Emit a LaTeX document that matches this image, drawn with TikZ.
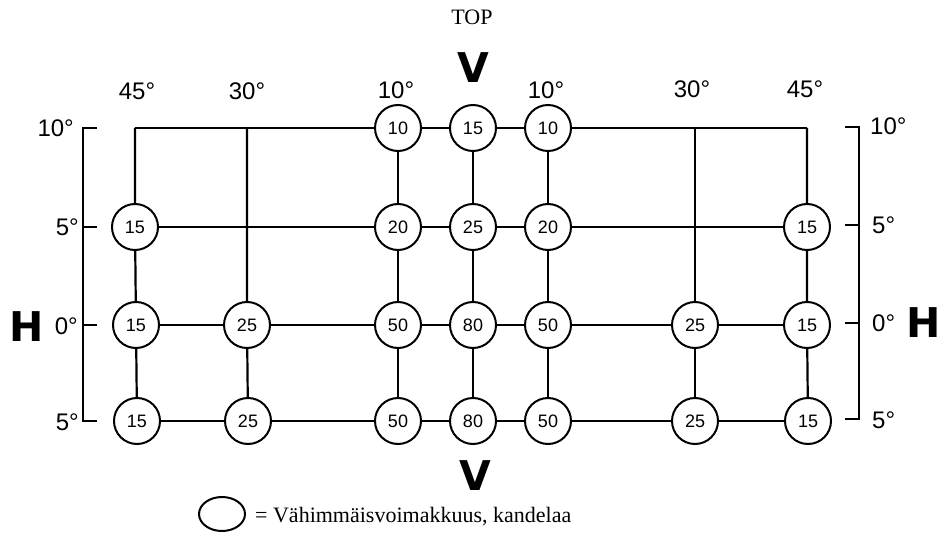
\documentclass[tikz,border=0pt]{standalone}
\usepackage{fontspec}
\setmainfont{Liberation Serif}
\newfontfamily\diagfont{Liberation Sans}
\newfontfamily\bigfont{DejaVu Sans}
\usetikzlibrary{shapes.geometric}
\begin{document}
\begin{tikzpicture}[x=1pt,y=-1pt,
  lamp/.style={circle, draw, line width=2pt, minimum size=46pt, inner sep=0pt, fill=white,
    font=\diagfont\fontsize{18}{18}\selectfont},
  gridline/.style={line width=2.2pt},
  deg/.style={font=\diagfont\fontsize{24}{24}\selectfont, inner sep=0pt},
  bigletter/.style={font=\bigfont\bfseries\fontsize{41}{41}\selectfont, inner sep=0pt},
  seriftext/.style={font=\fontsize{22}{26}\selectfont, inner sep=0pt}]
\useasboundingbox (0,0) rectangle (941,537);
% row 1
\coordinate (A1) at (135,128);
\coordinate (B1) at (247,128);
\node[lamp] (C1) at (398,128) {10};
\node[lamp] (D1) at (473,128) {15};
\node[lamp] (E1) at (548,128) {10};
\coordinate (F1) at (695,128);
\coordinate (G1) at (807,128);
% row 2
\node[lamp] (A2) at (135,227) {15};
\coordinate (B2) at (247,227);
\node[lamp] (C2) at (398,227) {20};
\node[lamp] (D2) at (473,227) {25};
\node[lamp] (E2) at (548,227) {20};
\coordinate (F2) at (695,227);
\node[lamp] (G2) at (807,227) {15};
% row 3
\node[lamp] (A3) at (136,325) {15};
\node[lamp] (B3) at (247,325) {25};
\node[lamp] (C3) at (398,325) {50};
\node[lamp] (D3) at (473,325) {80};
\node[lamp] (E3) at (548,325) {50};
\node[lamp] (F3) at (695,325) {25};
\node[lamp] (G3) at (807,325) {15};
% row 4
\node[lamp] (A4) at (137,421) {15};
\node[lamp] (B4) at (248,421) {25};
\node[lamp] (C4) at (398,421) {50};
\node[lamp] (D4) at (473,421) {80};
\node[lamp] (E4) at (548,421) {50};
\node[lamp] (F4) at (695,421) {25};
\node[lamp] (G4) at (808,421) {15};
% horizontal lines
\draw[gridline] (A1) -- (B1) -- (C1) -- (D1) -- (E1) -- (F1) -- (G1);
\draw[gridline] (A2) -- (B2) -- (C2) -- (D2) -- (E2) -- (F2) -- (G2);
\draw[gridline] (A3) -- (B3) -- (C3) -- (D3) -- (E3) -- (F3) -- (G3);
\draw[gridline] (A4) -- (B4) -- (C4) -- (D4) -- (E4) -- (F4) -- (G4);
% vertical lines
\draw[gridline] (A1) -- (A2) -- (A3) -- (A4);
\draw[gridline] (B1) -- (B2) -- (B3) -- (B4);
\draw[gridline] (C1) -- (C2) -- (C3) -- (C4);
\draw[gridline] (D1) -- (D2) -- (D3) -- (D4);
\draw[gridline] (E1) -- (E2) -- (E3) -- (E4);
\draw[gridline] (F1) -- (F2) -- (F3) -- (F4);
\draw[gridline] (G1) -- (G2) -- (G3) -- (G4);
% left bracket
\coordinate (LT) at (83,128); \coordinate (LB) at (83,421);
\coordinate (LT1) at (97,128); \coordinate (LB1) at (97,421);
\coordinate (L2) at (83,227); \coordinate (L2e) at (97,227);
\coordinate (L3) at (83,325); \coordinate (L3e) at (97,325);
\draw[gridline] (LT1) -- (LT) -- (LB) -- (LB1);
\draw[gridline] (L2) -- (L2e);
\draw[gridline] (L3) -- (L3e);
% right bracket
\coordinate (RT) at (859,127); \coordinate (RB) at (859,419);
\coordinate (RT1) at (845,127); \coordinate (RB1) at (845,419);
\coordinate (R2) at (859,225); \coordinate (R2e) at (845,225);
\coordinate (R3) at (859,323); \coordinate (R3e) at (845,323);
\draw[gridline] (RT1) -- (RT) -- (RB) -- (RB1);
\draw[gridline] (R2) -- (R2e);
\draw[gridline] (R3) -- (R3e);
% left labels
\node[deg, anchor=east] (lh1) at (74,128) {10°};
\node[deg, anchor=east] (lh2) at (79,227) {5°};
\node[deg, anchor=east] (lh3) at (78,326) {0°};
\node[deg, anchor=east] (lh4) at (79,422) {5°};
% right labels
\node[deg, anchor=west] (rh1) at (870,126) {10°};
\node[deg, anchor=west] (rh2) at (872,225) {5°};
\node[deg, anchor=west] (rh3) at (872,323) {0°};
\node[deg, anchor=west] (rh4) at (872,420) {5°};
% top labels
\node[deg] (t1) at (137,91) {45°};
\node[deg] (t2) at (247,91) {30°};
\node[deg] (t3) at (396,90) {10°};
\node[deg] (t5) at (546,90) {10°};
\node[deg] (t6) at (692,89) {30°};
\node[deg] (t7) at (805,89) {45°};
% big letters
\node[bigletter] (Vtop) at (473,68) {V};
\node[bigletter] (Vbot) at (475,476) {V};
\node[bigletter] (Hl) at (27,327) {H};
\node[bigletter] (Hr) at (924,323) {H};
% title and legend
\node[seriftext, font=\fontsize{22}{24}\selectfont] (title) at (472,17) {TOP};
\node[ellipse, draw, line width=2pt, minimum width=46pt, minimum height=34pt, inner sep=0pt] (legendmark) at (222,514) {};
\node[seriftext, anchor=base west] (legendtext) at (255,522) {= Vähimmäisvoimakkuus, kandelaa};
\end{tikzpicture}
\end{document}
